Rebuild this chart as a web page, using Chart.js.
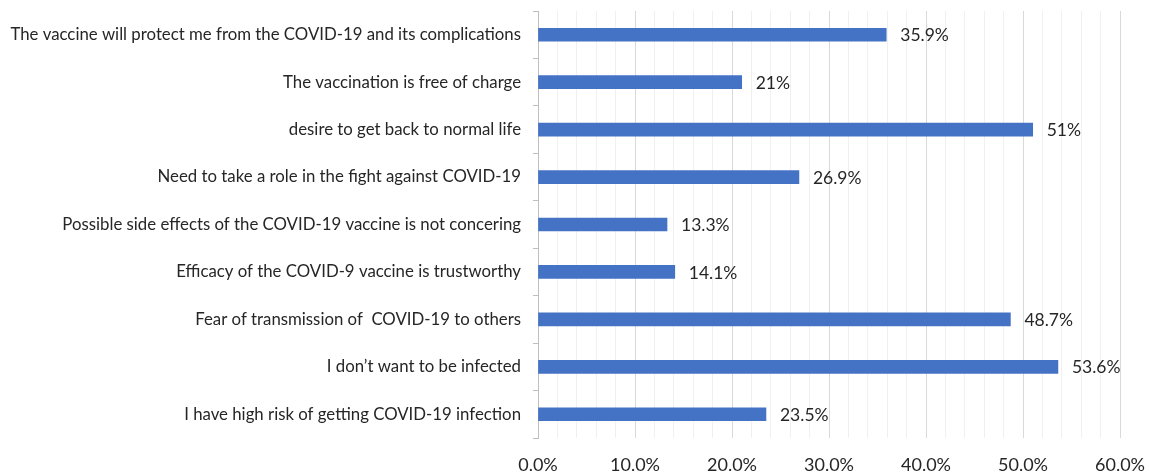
<html>

<head>
  <title>Reasons for vaccination</title>
  <style>
    html, body {
      margin: 0;
      padding: 0;
      background: #fff;
    }
    .canvas {
      width: 1150px;
      height: 473px;
      position: relative;
    }
  </style>
  <script src="https://cdn.jsdelivr.net/npm/chart.js@4/dist/chart.umd.min.js"></script>
</head>

<body>
  <div class="canvas">
    <canvas id="chart"></canvas>
  </div>

  <script>
    const reasons = [
      'The vaccine will protect me from the COVID-19 and its complications',
      'The vaccination is free of charge',
      'desire to get back to normal life',
      'Need to take a role in the fight against COVID-19',
      'Possible side effects of the COVID-19 vaccine is not concering',
      'Efficacy of the COVID-9 vaccine is trustworthy',
      'Fear of transmission of  COVID-19 to others',
      'I don\u2019t want to be infected',
      'I have high risk of getting COVID-19 infection',
    ];
    const percents = [35.9, 21, 51, 26.9, 13.3, 14.1, 48.7, 53.6, 23.5];
    const xTicks = [0, 10, 20, 30, 40, 50, 60];

    const fontFamily = 'Lato, "Noto Sans", sans-serif';

    // writes the value next to the end of each bar
    const valueLabels = {
      id: 'valueLabels',
      afterDatasetsDraw(chart) {
        const ctx = chart.ctx;
        const meta = chart.getDatasetMeta(0);
        ctx.save();
        ctx.font = '17.5px ' + fontFamily;
        ctx.fillStyle = '#262626';
        ctx.textAlign = 'left';
        ctx.textBaseline = 'middle';
        meta.data.forEach((bar, i) => {
          ctx.fillText(percents[i] + '%', bar.x + 14, bar.y + 1);
        });
        ctx.restore();
      },
    };

    window.chartObj = new Chart(document.querySelector('canvas#chart'), {
      type: 'bar',
      plugins: [valueLabels],
      data: {
        labels: reasons,
        datasets: [{
          data: percents,
          backgroundColor: '#4472c4',
          borderWidth: 0,
          barThickness: 13,
        }],
      },
      options: {
        indexAxis: 'y',
        responsive: true,
        maintainAspectRatio: false,
        animation: false,
        layout: {
          padding: { top: 11, right: 30, left: 0, bottom: 0 },
        },
        plugins: {
          legend: { display: false },
          tooltip: { enabled: false },
        },
        scales: {
          x: {
            min: 0,
            max: 60,
            afterBuildTicks(scale) {
              const ticks = [];
              for (let v = 0; v <= 60; v += 2) ticks.push({ value: v });
              scale.ticks = ticks;
            },
            afterFit(scale) {
              scale.height = 35;
              scale.paddingLeft = 0;
              scale.paddingRight = 0;
            },
            ticks: {
              autoSkip: false,
              maxRotation: 0,
              padding: 16,
              color: '#262626',
              font: { family: fontFamily, size: 18 },
              callback: (v) => xTicks.includes(v) ? v.toFixed(1) + '%' : '',
            },
            grid: {
              drawTicks: false,
              color: (c) => c.tick && xTicks.includes(c.tick.value) ? '#d9d9d9' : '#f0f0f0',
              lineWidth: 1,
            },
            border: { display: false },
          },
          y: {
            afterFit(scale) {
              scale.width = 538;
              scale.paddingTop = 0;
              scale.paddingBottom = 0;
            },
            ticks: {
              padding: 12,
              color: '#262626',
              font: { family: fontFamily, size: 16.8 },
            },
            grid: {
              drawOnChartArea: false,
              tickLength: 5,
              color: '#bfbfbf',
              offset: true,
            },
            border: { display: true, color: '#bfbfbf' },
          },
        },
      },
    });
  </script>
</body>

</html>
